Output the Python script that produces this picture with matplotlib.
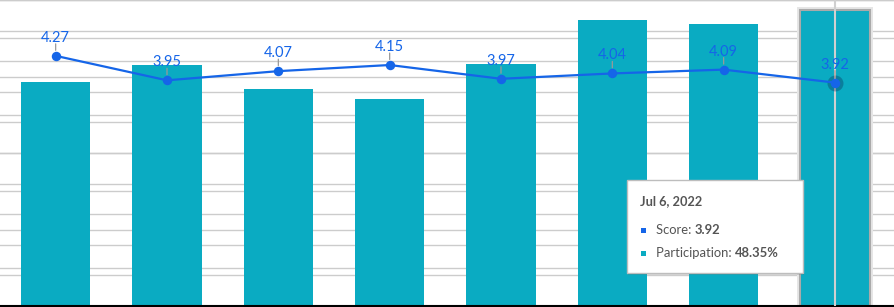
"""Score line over participation bars, with hover tooltip on the last period."""

import matplotlib

matplotlib.use("Agg")
import matplotlib.pyplot as plt
from matplotlib.patches import Rectangle

plt.rcParams["font.family"] = ["Lato", "DejaVu Sans"]

# data
periods = [0, 1, 2, 3, 4, 5, 6, 7]
participation = [36.6, 39.4, 35.5, 33.8, 39.5, 46.8, 46.1, 48.35]
scores = [4.27, 3.95, 4.07, 4.15, 3.97, 4.04, 4.09, 3.92]
tooltip_date = "Jul 6, 2022"

participation_ticks = [0, 5, 10, 15, 20, 25, 30, 35, 40, 45, 50]
score_ticks = [1.0, 1.5, 2.0, 2.5, 3.0, 3.5, 4.0, 4.5, 5.0]

BAR = "#0aabc2"
LINE = "#1565e8"
GRID = "#cccccc"
TXT = "#555555"

W, H = 894, 307
fig = plt.figure(figsize=(W / 100, H / 100), dpi=100)
ax = fig.add_axes([0, 1.0 / H, 1, (H - 1.0) / H])
ax2 = ax.twinx()

ax.set_xlim(-0.5, 7.53)
ax.set_ylim(0, 50)
ax2.set_ylim(1, 5)

# grid lines of both scales, all behind the bars
p_per_score = 50 / (5 - 1)
for v in participation_ticks:
	ax.axhline(v, color=GRID, lw=1, zorder=0)
for v in score_ticks:
	ax.axhline((v - 1) * p_per_score, color=GRID, lw=1, zorder=0)

bars = ax.bar(periods, participation, width=0.62, color=BAR, zorder=2)

# highlighted (hovered) bar
last = bars[-1]
px_x = 1 / 111.4
px_y = 50 / 306
ax.add_patch(Rectangle(
	(last.get_x() - 3 * px_x, 0), last.get_width() + 6 * px_x, last.get_height() + 3 * px_y,
	facecolor="#e6e6e6", edgecolor="none", zorder=1.5,
))
last.set_edgecolor("#aaaaaa")
last.set_linewidth(1.5)

for s in ["top", "left", "right"]:
	ax.spines[s].set_visible(False)
	ax2.spines[s].set_visible(False)
ax.spines["bottom"].set_color("black")
ax.spines["bottom"].set_linewidth(1.5)
ax2.spines["bottom"].set_visible(False)
ax.set_xticks([])
ax.set_yticks([])
ax2.set_yticks([])

# crosshair at the hovered period
ax2.axvline(periods[-1], color="#d0d0d0", lw=1.5, zorder=1)

ax2.plot(periods[-1], scores[-1], "o", ms=11.5, color="#0b2a55", alpha=0.35, mew=0, zorder=2)
ax2.plot(periods, scores, "-o", color=LINE, lw=1.6, ms=6.8, mew=0, zorder=3)

for x, s in zip(periods, scores):
	ax2.annotate(
		"", xy=(x, s), xytext=(0, 12), textcoords="offset pixels",
		arrowprops=dict(arrowstyle="-", color="#999999", lw=0.9, shrinkA=0, shrinkB=4),
		zorder=2.5,
	)
	ax2.annotate(
		f"{s:.2f}", xy=(x, s), xytext=(0, 14), textcoords="offset pixels",
		ha="center", va="baseline", fontsize=10.5, color=LINE, zorder=4,
	)


# tooltip box, drawn in pixel coordinates
def fx(px):
	return px / W


def fy(py):
	return 1 - py / H


box_l, box_t, box_r, box_b = 627, 180, 803, 273
fig.patches.append(Rectangle(
	(fx(box_l + 1), fy(box_b + 2)), fx(box_r - box_l), (box_b - box_t) / H,
	transform=fig.transFigure, facecolor="black", alpha=0.12, edgecolor="none", zorder=9,
))
fig.patches.append(Rectangle(
	(fx(box_l), fy(box_b)), fx(box_r - box_l), (box_b - box_t) / H,
	transform=fig.transFigure, facecolor="white", edgecolor="#bdbdbd", lw=1, zorder=10,
))

fig.text(fx(640), fy(201), tooltip_date, fontsize=9.2, fontweight="bold", color=TXT,
	va="center", ha="left", zorder=11)

renderer = fig.canvas.get_renderer()
rows = [
	(230, LINE, "Score: ", f"{scores[-1]:.2f}"),
	(253, BAR, "Participation: ", f"{participation[-1]:.2f}%"),
]
for py, col, name, val in rows:
	fig.patches.append(Rectangle(
		(fx(640.5), fy(py + 2.5)), fx(5), 5 / H,
		transform=fig.transFigure, facecolor=col, edgecolor="none", zorder=11,
	))
	t = fig.text(fx(656), fy(py), name, fontsize=9.4, color=TXT, va="center", ha="left", zorder=11)
	bb = t.get_window_extent(renderer)
	fig.text(bb.x1 / W, fy(py), val, fontsize=9.4, fontweight="bold", color=TXT,
		va="center", ha="left", zorder=11)

fig.savefig("out.png", dpi=100)
